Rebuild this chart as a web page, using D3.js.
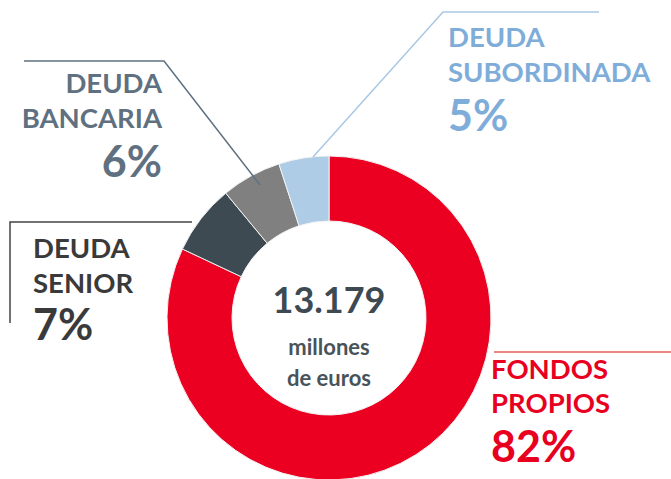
<!DOCTYPE html>
<html>
<head>
<meta charset="utf-8">
<script src="https://cdn.jsdelivr.net/npm/d3@7"></script>
<style>
  body { margin: 0; background: #fff; }
  svg { display: block; font-family: Lato, "Open Sans", sans-serif; }
</style>
</head>
<body>
<svg width="671" height="479"></svg>
<script>
// data, clockwise from 12 o'clock
var categories = ["FONDOS PROPIOS", "DEUDA SENIOR", "DEUDA BANCARIA", "DEUDA SUBORDINADA"];
var values = [82, 7, 6, 5];
var sliceColors = ["#eb0022", "#3e4a52", "#808080", "#afcce6"];
var labelColors = ["#e8001f", "#3a3a3a", "#5f7180", "#7fadd9"];
var lineColors = ["#e85c5c", "#444444", "#5f7180", "#a9c8e6"];
var totalText = "13.179";
var unitLines = ["millones", "de euros"];

var svg = d3.select("svg"),
    cx = 329, cy = 318,
    outerRadius = 162,
    innerRadius = 97;

var pie = d3.pie().sort(null).value(function (d) { return d; });
var arc = d3.arc().innerRadius(innerRadius).outerRadius(outerRadius);

var g = svg.append("g").attr("transform", "translate(" + cx + "," + cy + ")");

g.selectAll("path")
    .data(pie(values))
    .enter().append("path")
    .attr("d", arc)
    .style("fill", function (d, i) { return sliceColors[i]; })
    .style("stroke", "#f2f2f2")
    .style("stroke-width", 1);

// centre total
g.append("text")
    .attr("text-anchor", "middle")
    .attr("y", -5)
    .style("font-size", "36px").style("font-weight", 700)
    .style("fill", "#3e4a52")
    .text(totalText);

g.selectAll(".unit")
    .data(unitLines)
    .enter().append("text")
    .attr("class", "unit")
    .attr("text-anchor", "middle")
    .attr("y", function (d, i) { return 37 + i * 31; })
    .style("font-size", "22px").style("font-weight", 700)
    .style("fill", "#48535a")
    .text(function (d) { return d; });

// leader lines (annotation layout)
var leaders = [
    [[494, 352], [671, 352]],
    [[192, 222], [10, 222], [10, 323]],
    [[260, 185], [164, 61], [24, 61]],
    [[313, 157], [443, 12], [599, 12]]
];
var line = d3.line();
svg.selectAll(".leader")
    .data(leaders)
    .enter().append("path")
    .attr("class", "leader")
    .attr("d", line)
    .style("fill", "none")
    .style("stroke", function (d, i) { return lineColors[i]; })
    .style("stroke-width", 1.5);

// labels: x, anchor, baselines of line1, line2, pct
var labelPos = [
    {x: 491, anchor: "start", y: [379, 413, 462]},
    {x: 33, anchor: "start", y: [258, 293, 340]},
    {x: 162, anchor: "end", y: [93, 128, 177]},
    {x: 448, anchor: "start", y: [47, 82, 131]}
];

categories.forEach(function (c, i) {
    var p = labelPos[i],
        words = c.split(" "),
        t = svg.append("g").style("fill", labelColors[i]).attr("text-anchor", p.anchor);
    words.forEach(function (w, j) {
        t.append("text")
            .attr("x", p.x).attr("y", p.y[j])
            .style("font-size", "27.5px").style("font-weight", 700)
            .text(w);
    });
    t.append("text")
        .attr("x", p.x).attr("y", p.y[2])
        .style("font-size", "43px").style("font-weight", 700)
        .text(values[i] + "%");
});
</script>
</body>
</html>
